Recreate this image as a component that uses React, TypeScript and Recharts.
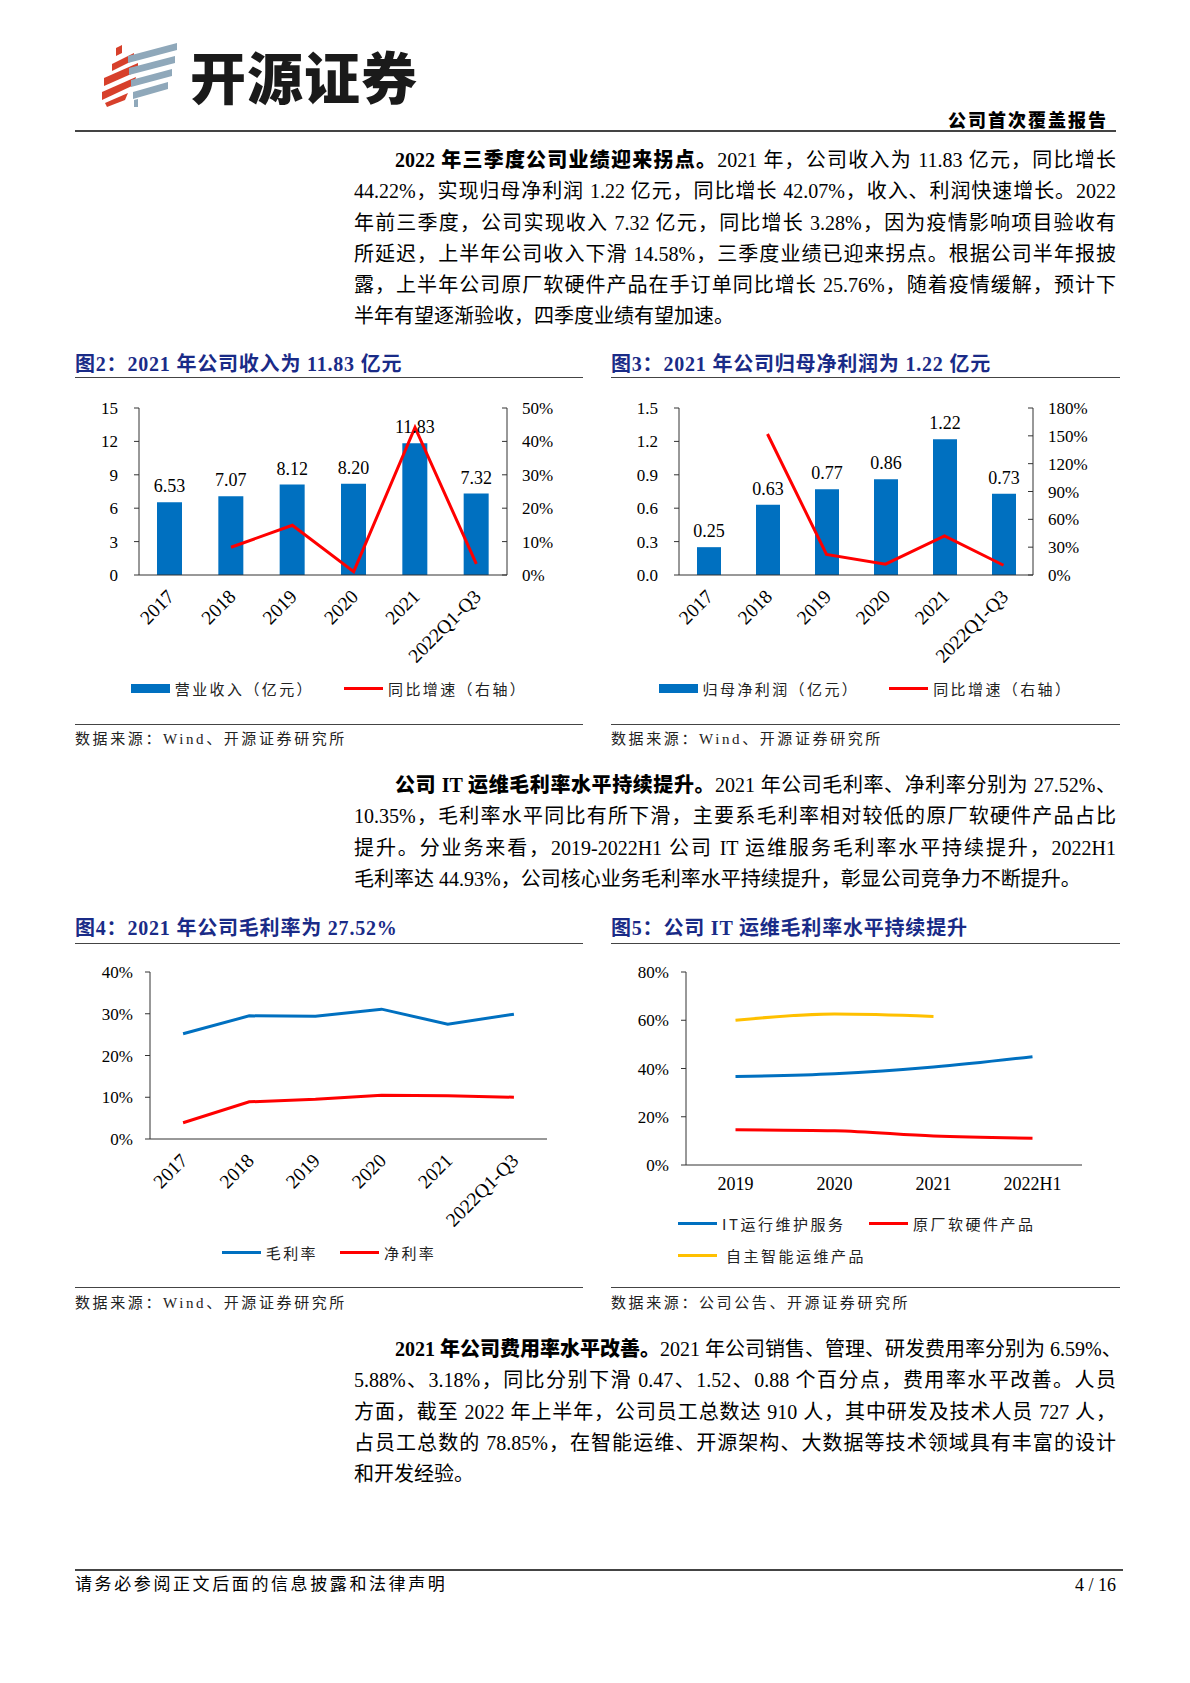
import React from "react";
import { ComposedChart, Bar, Line, XAxis, YAxis, Legend, LabelList } from "recharts";

// ---- data ----
const years = ["2017", "2018", "2019", "2020", "2021", "2022Q1-Q3"];
const revenue = [6.53, 7.07, 8.12, 8.2, 11.83, 7.32];
const revenueGrowth = [null, 8.3, 14.9, 1.0, 44.2, 3.3];
const netProfit = [0.25, 0.63, 0.77, 0.86, 1.22, 0.73];
const profitGrowth = [null, 152, 22.2, 11.7, 42.1, 10.5];
const grossMargin = [25.2, 29.5, 29.4, 31.1, 27.5, 29.9];
const netMargin = [3.9, 8.9, 9.5, 10.5, 10.35, 10.0];

const segYears = ["2019", "2020", "2021", "2022H1"];
const itService = [36.7, 37.8, 40.6, 44.9];
const vendorProducts = [14.6, 14.2, 12.0, 11.1];
const ownProducts = [60.0, 62.6, 61.6, null];

const revTicks = [0, 3, 6, 9, 12, 15];
const revGrowthTicks = [0, 10, 20, 30, 40, 50];
const profitTicks = [0, 0.3, 0.6, 0.9, 1.2, 1.5];
const profitGrowthTicks = [0, 30, 60, 90, 120, 150, 180];
const marginTicks = [0, 10, 20, 30, 40];
const segTicks = [0, 20, 40, 60, 80];

const revRows = years.map((y, i) => ({ year: y, revenue: revenue[i], growth: revenueGrowth[i] }));
const profitRows = years.map((y, i) => ({ year: y, profit: netProfit[i], growth: profitGrowth[i] }));
const marginRows = years.map((y, i) => ({ year: y, gross: grossMargin[i], net: netMargin[i] }));
const segRows = segYears.map((y, i) => ({ year: y, it: itService[i], vendor: vendorProducts[i], own: ownProducts[i] }));

// ---- styles ----
const SERIF = '"Liberation Serif", "Noto Sans CJK SC", serif';
const CJK = '"Noto Sans CJK SC", "Liberation Serif", sans-serif';
const BLUE = "#0070C0";
const RED = "#FF0000";
const YELLOW = "#FFC000";
const AXIS = "#333";
const NAVY = "#1a2b87";

const tickStyle = { fontSize: 17, fill: "#000", fontFamily: SERIF };
const pct = (v) => `${v}%`;

const SlantTick = (props) => {
  const { x, y, payload } = props;
  return (
    <g transform={`translate(${x + 1},${y + 18})`}>
      <text transform="rotate(-45)" textAnchor="end" dy="0.35em" fontSize={19.5} fontFamily={SERIF} fill="#000">
        {payload.value}
      </text>
    </g>
  );
};

const Swatch = ({ kind, color }) => (
  <span
    style={{
      display: "inline-block",
      width: 39,
      height: kind === "bar" ? 9 : 3,
      background: color,
      marginRight: 5,
    }}
  />
);

const LegendRow = ({ items, gap = 30 }) => (
  <div
    style={{
      display: "flex",
      justifyContent: "center",
      alignItems: "center",
      gap,
      height: 24,
      fontFamily: CJK,
      fontSize: 15,
      letterSpacing: 2.4,
      color: "#222",
    }}
  >
    {items.map((it) => (
      <div key={it.label} style={{ display: "flex", alignItems: "center" }}>
        <Swatch kind={it.kind} color={it.color} />
        {it.label}
      </div>
    ))}
  </div>
);

const SegLegend = () => (
  <div
    style={{
      display: "grid",
      gridTemplateColumns: "191px auto",
      gridAutoRows: "32px",
      alignItems: "center",
      paddingLeft: 67,
      height: 64,
      fontFamily: CJK,
      fontSize: 15,
      letterSpacing: 2.5,
      color: "#222",
    }}
  >
    <div style={{ display: "flex", alignItems: "center" }}>
      <Swatch kind="line" color={BLUE} />
      IT运行维护服务
    </div>
    <div style={{ display: "flex", alignItems: "center" }}>
      <Swatch kind="line" color={RED} />
      原厂软硬件产品
    </div>
    <div style={{ display: "flex", alignItems: "center" }}>
      <Swatch kind="line" color={YELLOW} />
      <span style={{ marginLeft: 4 }}>自主智能运维产品</span>
    </div>
  </div>
);

const barLabel = { fontSize: 18, fill: "#000", fontFamily: SERIF };

function RevenueChart() {
  return (
    <ComposedChart width={508} height={330} data={revRows} margin={{ top: 28, right: 24, bottom: 110, left: 20 }}>
      <XAxis dataKey="year" height={1} interval={0} tickLine={false} tickSize={0} tickMargin={0} axisLine={{ stroke: AXIS }} tick={<SlantTick />} />
      <XAxis xAxisId="edge" type="number" domain={[0, 6]} ticks={[1, 2, 3, 4, 5]} allowDataOverflow height={1} axisLine={false} tick={false} mirror tickSize={5} tickLine={{ stroke: AXIS }} />
      <YAxis yAxisId="l" width={44} domain={[0, 15]} ticks={revTicks} interval={0} tick={tickStyle} tickSize={5} tickMargin={16} axisLine={{ stroke: AXIS }} tickLine={{ stroke: AXIS }} />
      <YAxis yAxisId="r" orientation="right" width={52} domain={[0, 50]} ticks={revGrowthTicks} interval={0} tickFormatter={pct} tick={tickStyle} tickSize={-5} tickMargin={20} axisLine={{ stroke: AXIS }} tickLine={{ stroke: AXIS }} />
      <Bar yAxisId="l" dataKey="revenue" fill={BLUE} barSize={25} isAnimationActive={false}>
        <LabelList dataKey="revenue" position="top" offset={10} formatter={(v) => Number(v).toFixed(2)} style={barLabel} />
      </Bar>
      <Line yAxisId="r" dataKey="growth" stroke={RED} strokeWidth={3} dot={false} isAnimationActive={false} />
      <Legend
        height={24}
        wrapperStyle={{ top: 296, left: 0, width: 508, height: 24, bottom: "auto" }}
        content={() => (
          <LegendRow
            items={[
              { label: "营业收入（亿元）", kind: "bar", color: BLUE },
              { label: "同比增速（右轴）", kind: "line", color: RED },
            ]}
          />
        )}
      />
    </ComposedChart>
  );
}

function ProfitChart() {
  return (
    <ComposedChart width={509} height={330} data={profitRows} margin={{ top: 28, right: 35, bottom: 110, left: 24 }}>
      <XAxis dataKey="year" height={1} interval={0} tickLine={false} tickSize={0} tickMargin={0} axisLine={{ stroke: AXIS }} tick={<SlantTick />} />
      <XAxis xAxisId="edge" type="number" domain={[0, 6]} ticks={[1, 2, 3, 4, 5]} allowDataOverflow height={1} axisLine={false} tick={false} mirror tickSize={5} tickLine={{ stroke: AXIS }} />
      <YAxis yAxisId="l" width={44} domain={[0, 1.5]} ticks={profitTicks} interval={0} tickFormatter={(v) => Number(v).toFixed(1)} tick={tickStyle} tickSize={5} tickMargin={16} axisLine={{ stroke: AXIS }} tickLine={{ stroke: AXIS }} />
      <YAxis yAxisId="r" orientation="right" width={52} domain={[0, 180]} ticks={profitGrowthTicks} interval={0} tickFormatter={pct} tick={tickStyle} tickSize={-5} tickMargin={20} axisLine={{ stroke: AXIS }} tickLine={{ stroke: AXIS }} />
      <Bar yAxisId="l" dataKey="profit" fill={BLUE} barSize={24} isAnimationActive={false}>
        <LabelList dataKey="profit" position="top" offset={10} formatter={(v) => Number(v).toFixed(2)} style={barLabel} />
      </Bar>
      <Line yAxisId="r" dataKey="growth" stroke={RED} strokeWidth={3} dot={false} isAnimationActive={false} />
      <Legend
        height={24}
        wrapperStyle={{ top: 296, left: 0, width: 509, height: 24, bottom: "auto" }}
        content={() => (
          <LegendRow
            items={[
              { label: "归母净利润（亿元）", kind: "bar", color: BLUE },
              { label: "同比增速（右轴）", kind: "line", color: RED },
            ]}
          />
        )}
      />
    </ComposedChart>
  );
}

function MarginChart() {
  return (
    <ComposedChart width={508} height={330} data={marginRows} margin={{ top: 27, right: 36, bottom: 111, left: 25 }}>
      <XAxis dataKey="year" scale="band" height={1} interval={0} tickLine={false} tickSize={0} tickMargin={0} axisLine={{ stroke: AXIS }} tick={<SlantTick />} />
      <XAxis xAxisId="edge" type="number" domain={[0, 6]} ticks={[1, 2, 3, 4, 5, 6]} allowDataOverflow height={1} axisLine={false} tick={false} mirror tickSize={5} tickLine={{ stroke: AXIS }} />
      <YAxis width={50} domain={[0, 40]} ticks={marginTicks} interval={0} tickFormatter={pct} tick={tickStyle} tickSize={5} tickMargin={12} axisLine={{ stroke: AXIS }} tickLine={{ stroke: AXIS }} />
      <Line dataKey="gross" stroke={BLUE} strokeWidth={3} dot={false} isAnimationActive={false} />
      <Line dataKey="net" stroke={RED} strokeWidth={3} dot={false} isAnimationActive={false} />
      <Legend
        height={24}
        wrapperStyle={{ top: 295, left: 0, width: 508, height: 24, bottom: "auto" }}
        content={() => (
          <LegendRow
            gap={22}
            items={[
              { label: "毛利率", kind: "line", color: BLUE },
              { label: "净利率", kind: "line", color: RED },
            ]}
          />
        )}
      />
    </ComposedChart>
  );
}

function SegmentChart() {
  return (
    <ComposedChart width={509} height={330} data={segRows} margin={{ top: 27, right: 38, bottom: 45, left: 25 }}>
      <XAxis dataKey="year" scale="band" height={1} interval={0} tickLine={false} tickSize={0} tickMargin={12} axisLine={{ stroke: AXIS }} tick={{ fontSize: 18, fill: "#000", fontFamily: SERIF }} />
      <XAxis xAxisId="edge" type="number" domain={[0, 4]} ticks={[1, 2, 3, 4]} allowDataOverflow height={1} axisLine={false} tick={false} mirror tickSize={5} tickLine={{ stroke: AXIS }} />
      <YAxis width={50} domain={[0, 80]} ticks={segTicks} interval={0} tickFormatter={pct} tick={tickStyle} tickSize={5} tickMargin={12} axisLine={{ stroke: AXIS }} tickLine={{ stroke: AXIS }} />
      <Line type="monotone" dataKey="it" stroke={BLUE} strokeWidth={3} dot={false} isAnimationActive={false} />
      <Line type="monotone" dataKey="vendor" stroke={RED} strokeWidth={3} dot={false} isAnimationActive={false} />
      <Line type="monotone" dataKey="own" stroke={YELLOW} strokeWidth={3} dot={false} isAnimationActive={false} />
      <Legend height={64} wrapperStyle={{ top: 262, left: 0, width: 509, height: 64, bottom: "auto" }} content={() => <SegLegend />} />
    </ComposedChart>
  );
}

// ---- page furniture ----
const abs = (left, top, extra = {}) => ({ position: "absolute", left, top, ...extra });

const Rule = ({ x, y, w, h = 1, color = "#444" }) => <div style={abs(x, y, { width: w, height: h, background: color })} />;

const FigTitle = ({ x, y, children }) => (
  <div style={abs(x, y - 13, { fontFamily: SERIF, fontSize: 20, fontWeight: 700, color: NAVY, lineHeight: "26px", whiteSpace: "nowrap", letterSpacing: 0.8 })}>
    {children}
  </div>
);

const Source = ({ x, y, children }) => (
  <div style={abs(x, y - 10, { fontFamily: SERIF, fontSize: 15, color: "#222", lineHeight: "20px", letterSpacing: 2.6, whiteSpace: "nowrap" })}>
    {children}
  </div>
);

const Para = ({ top, lines }) => (
  <div style={abs(354, top, { width: 762, fontFamily: SERIF, fontSize: 20, lineHeight: "31.3px", color: "#000" })}>
    {lines.map((ln, i) => (
      <div
        key={i}
        style={{
          whiteSpace: "nowrap",
          textAlign: "justify",
          textAlignLast: ln.last ? "left" : "justify",
          paddingLeft: ln.indent ? 41 : 0,
        }}
      >
        {ln.bold && <b style={{ fontWeight: 900 }}>{ln.bold}</b>}
        {ln.text}
      </div>
    ))}
  </div>
);

const Logo = () => (
  <>
    <svg style={abs(95, 38)} width={90} height={75} viewBox="95 38 90 75">
      <polygon points="116,48 122,45 122,53 116,56" fill="#D7402B" />
      <polygon points="112,64 134,53 134,60 112,71" fill="#D7402B" />
      <polygon points="104,78 138,63 138,71 104,86" fill="#D7402B" />
      <polygon points="102,92 136,77 134,85 102,100" fill="#D7402B" />
      <polygon points="105,103 128,93 125,100 107,107" fill="#D7402B" />
      <polygon points="128,56 177,43 177,50 128,63" fill="#8FA8BA" />
      <polygon points="129,68 175,56 175,63 129,75" fill="#8FA8BA" />
      <polygon points="131,80 172,69 172,76 131,87" fill="#8FA8BA" />
      <polygon points="133,92 168,82 168,89 133,99" fill="#8FA8BA" />
      <polygon points="134,100 138,99 138,107 134,107" fill="#8FA8BA" />
    </svg>
    <div style={abs(190, 44, { fontFamily: CJK, fontWeight: 900, fontSize: 56, lineHeight: "62px", color: "#1a1a1a", letterSpacing: 1 })}>开源证券</div>
  </>
);

const p1 = [
  { indent: true, bold: "2022 年三季度公司业绩迎来拐点。", text: "2021 年，公司收入为 11.83 亿元，同比增长" },
  { text: "44.22%，实现归母净利润 1.22 亿元，同比增长 42.07%，收入、利润快速增长。2022" },
  { text: "年前三季度，公司实现收入 7.32 亿元，同比增长 3.28%，因为疫情影响项目验收有" },
  { text: "所延迟，上半年公司收入下滑 14.58%，三季度业绩已迎来拐点。根据公司半年报披" },
  { text: "露，上半年公司原厂软硬件产品在手订单同比增长 25.76%，随着疫情缓解，预计下" },
  { text: "半年有望逐渐验收，四季度业绩有望加速。", last: true },
];

const p2 = [
  { indent: true, bold: "公司 IT 运维毛利率水平持续提升。", text: "2021 年公司毛利率、净利率分别为 27.52%、" },
  { text: "10.35%，毛利率水平同比有所下滑，主要系毛利率相对较低的原厂软硬件产品占比" },
  { text: "提升。分业务来看，2019-2022H1 公司 IT 运维服务毛利率水平持续提升，2022H1" },
  { text: "毛利率达 44.93%，公司核心业务毛利率水平持续提升，彰显公司竞争力不断提升。", last: true },
];

const p3 = [
  { indent: true, bold: "2021 年公司费用率水平改善。", text: "2021 年公司销售、管理、研发费用率分别为 6.59%、" },
  { text: "5.88%、3.18%，同比分别下滑 0.47、1.52、0.88 个百分点，费用率水平改善。人员" },
  { text: "方面，截至 2022 年上半年，公司员工总数达 910 人，其中研发及技术人员 727 人，" },
  { text: "占员工总数的 78.85%，在智能运维、开源架构、大数据等技术领域具有丰富的设计" },
  { text: "和开发经验。", last: true },
];

export default function App() {
  return (
    <div style={{ position: "absolute", left: 0, top: 0, width: 1190, height: 1683, background: "#fff", overflow: "hidden" }}>
      <Logo />
      <div style={abs(0, 109, { width: 1108, textAlign: "right", fontFamily: SERIF, fontSize: 18, fontWeight: 900, letterSpacing: 2, lineHeight: "24px" })}>
        公司首次覆盖报告
      </div>
      <Rule x={75} y={130} w={1041} h={2} />

      <Para top={145} lines={p1} />

      <FigTitle x={75} y={364}>图2：2021 年公司收入为 11.83 亿元</FigTitle>
      <FigTitle x={611} y={364}>图3：2021 年公司归母净利润为 1.22 亿元</FigTitle>
      <Rule x={75} y={377} w={508} />
      <Rule x={611} y={377} w={509} />
      <div style={abs(75, 380)}>
        <RevenueChart />
      </div>
      <div style={abs(611, 380)}>
        <ProfitChart />
      </div>
      <Rule x={75} y={724} w={508} />
      <Rule x={611} y={724} w={509} />
      <Source x={75} y={739}>数据来源：Wind、开源证券研究所</Source>
      <Source x={611} y={739}>数据来源：Wind、开源证券研究所</Source>

      <Para top={770} lines={p2} />

      <FigTitle x={75} y={928}>图4：2021 年公司毛利率为 27.52%</FigTitle>
      <FigTitle x={611} y={928}>图5：公司 IT 运维毛利率水平持续提升</FigTitle>
      <Rule x={75} y={943} w={508} />
      <Rule x={611} y={943} w={509} />
      <div style={abs(75, 945)}>
        <MarginChart />
      </div>
      <div style={abs(611, 945)}>
        <SegmentChart />
      </div>
      <Rule x={75} y={1287} w={508} />
      <Rule x={611} y={1287} w={509} />
      <Source x={75} y={1303}>数据来源：Wind、开源证券研究所</Source>
      <Source x={611} y={1303}>数据来源：公司公告、开源证券研究所</Source>

      <Para top={1334} lines={p3} />

      <Rule x={75} y={1569} w={1048} h={2} />
      <div style={abs(75, 1574, { fontFamily: SERIF, fontSize: 17, letterSpacing: 2.6, lineHeight: "22px", whiteSpace: "nowrap" })}>
        请务必参阅正文后面的信息披露和法律声明
      </div>
      <div style={abs(0, 1574, { width: 1116, textAlign: "right", fontFamily: SERIF, fontSize: 18, lineHeight: "22px" })}>4 / 16</div>
    </div>
  );
}
